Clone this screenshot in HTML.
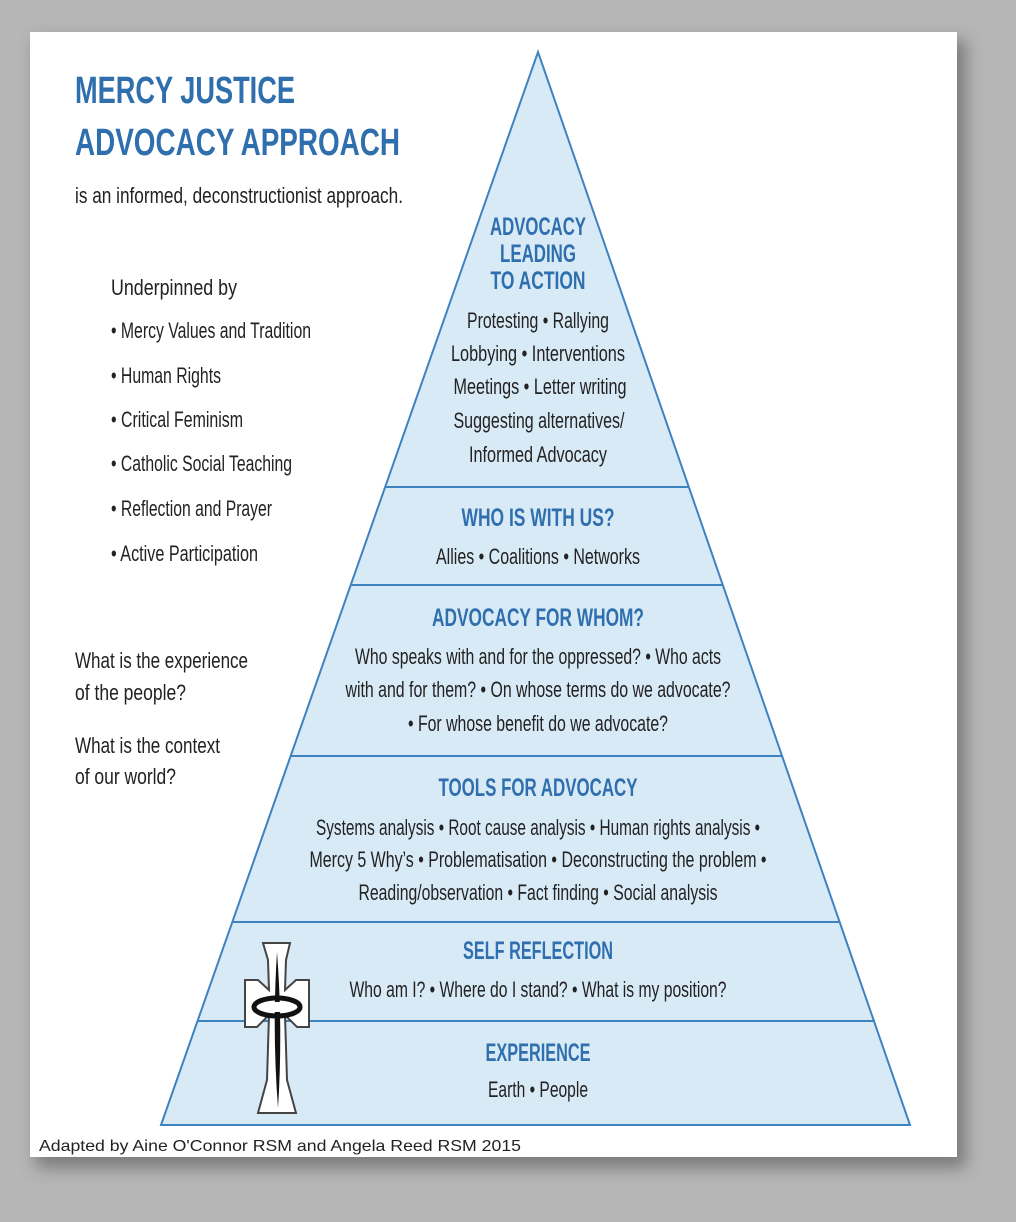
<!DOCTYPE html>
<html><head><meta charset="utf-8"><style>
html,body{margin:0;padding:0;background:#b5b6b5;}
svg{display:block}
text{font-family:"Liberation Sans Narrow","Liberation Sans",sans-serif;}
.t{fill:#2f6fae;font-weight:bold;}
.b{fill:#222;}
</style></head><body>
<svg width="1016" height="1222" viewBox="0 0 1016 1222" xmlns="http://www.w3.org/2000/svg">
<defs>
<filter id="sh" x="-10%" y="-10%" width="120%" height="120%"><feGaussianBlur stdDeviation="8"/></filter>
</defs>
<rect x="0" y="0" width="1016" height="1222" fill="#b5b6b5"/>
<rect x="36" y="40" width="930" height="1128" fill="#555" opacity="0.6" filter="url(#sh)"/>
<rect x="30" y="32" width="927" height="1125" fill="#fff"/>
<polygon points="538,52 910,1125 161,1125" fill="#d9eaf7" stroke="#3f82c0" stroke-width="2"/>
<g stroke="#3f82c0" stroke-width="2">
<line x1="385" y1="487" x2="689" y2="487"/>
<line x1="351" y1="585" x2="723" y2="585"/>
<line x1="291" y1="756" x2="782" y2="756"/>
<line x1="233" y1="922" x2="840" y2="922"/>
<line x1="198" y1="1021" x2="875" y2="1021"/>
</g>
<!-- cross -->
<g>
<path d="M263,943 L290,943 L286,960 L285,990 L296,980 L309,980 L309,1027 L297,1027 L285,1015 L287,1080 L296,1113 L258,1113 L267,1080 L269,1015 L257,1027 L245,1027 L245,980 L258,980 L269,990 L268,960 Z" fill="#fff" stroke="#444" stroke-width="2"/>
<path d="M277,952 Q283,1030 278,1108 Q272,1030 277,952 Z" fill="#111"/>
<ellipse cx="277" cy="1007" rx="23" ry="9" fill="none" stroke="#111" stroke-width="5"/>
<rect x="274" y="1002" width="6" height="10" fill="#fff"/>
</g>
<!-- left texts -->
<text class="t" x="75" y="103" font-size="38" textLength="220" lengthAdjust="spacingAndGlyphs">MERCY JUSTICE</text>
<text class="t" x="75" y="155" font-size="38" textLength="325" lengthAdjust="spacingAndGlyphs">ADVOCACY APPROACH</text>
<text class="b" x="75" y="203" font-size="22" textLength="328" lengthAdjust="spacingAndGlyphs">is an informed, deconstructionist approach.</text>
<g class="b" font-size="22">
<text x="111" y="295" textLength="126" lengthAdjust="spacingAndGlyphs">Underpinned by</text>
<text x="111" y="338" textLength="200" lengthAdjust="spacingAndGlyphs">• Mercy Values and Tradition</text>
<text x="111" y="383" textLength="110" lengthAdjust="spacingAndGlyphs">• Human Rights</text>
<text x="111" y="427" textLength="132" lengthAdjust="spacingAndGlyphs">• Critical Feminism</text>
<text x="111" y="471" textLength="181" lengthAdjust="spacingAndGlyphs">• Catholic Social Teaching</text>
<text x="111" y="516" textLength="161" lengthAdjust="spacingAndGlyphs">• Reflection and Prayer</text>
<text x="111" y="561" textLength="147" lengthAdjust="spacingAndGlyphs">• Active Participation</text>
<text x="75" y="668" textLength="173" lengthAdjust="spacingAndGlyphs">What is the experience</text>
<text x="75" y="700" textLength="111" lengthAdjust="spacingAndGlyphs">of the people?</text>
<text x="75" y="753" textLength="145" lengthAdjust="spacingAndGlyphs">What is the context</text>
<text x="75" y="784" textLength="101" lengthAdjust="spacingAndGlyphs">of our world?</text>
</g>
<!-- pyramid texts -->
<g text-anchor="middle">
<g class="t" font-size="25">
<text x="538" y="235" textLength="96" lengthAdjust="spacingAndGlyphs">ADVOCACY</text>
<text x="538" y="262" textLength="76" lengthAdjust="spacingAndGlyphs">LEADING</text>
<text x="538" y="289" textLength="95" lengthAdjust="spacingAndGlyphs">TO ACTION</text>
<text x="538" y="526" textLength="153" lengthAdjust="spacingAndGlyphs">WHO IS WITH US?</text>
<text x="538" y="626" textLength="212" lengthAdjust="spacingAndGlyphs">ADVOCACY FOR WHOM?</text>
<text x="538" y="796" textLength="199" lengthAdjust="spacingAndGlyphs">TOOLS FOR ADVOCACY</text>
<text x="538" y="959" textLength="150" lengthAdjust="spacingAndGlyphs">SELF REFLECTION</text>
<text x="538" y="1061" textLength="105" lengthAdjust="spacingAndGlyphs">EXPERIENCE</text>
</g>
<g class="b" font-size="22">
<text x="538" y="328" textLength="142" lengthAdjust="spacingAndGlyphs">Protesting • Rallying</text>
<text x="538" y="361" textLength="174" lengthAdjust="spacingAndGlyphs">Lobbying • Interventions</text>
<text x="540" y="394" textLength="173" lengthAdjust="spacingAndGlyphs">Meetings • Letter writing</text>
<text x="539" y="428" textLength="171" lengthAdjust="spacingAndGlyphs">Suggesting alternatives/</text>
<text x="538" y="462" textLength="138" lengthAdjust="spacingAndGlyphs">Informed Advocacy</text>
<text x="538" y="564" textLength="204" lengthAdjust="spacingAndGlyphs">Allies • Coalitions • Networks</text>
<text x="538" y="664" textLength="366" lengthAdjust="spacingAndGlyphs">Who speaks with and for the oppressed? • Who acts</text>
<text x="538" y="697" textLength="385" lengthAdjust="spacingAndGlyphs">with and for them? • On whose terms do we advocate?</text>
<text x="538" y="731" textLength="260" lengthAdjust="spacingAndGlyphs">• For whose benefit do we advocate?</text>
<text x="538" y="835" textLength="444" lengthAdjust="spacingAndGlyphs">Systems analysis • Root cause analysis • Human rights analysis •</text>
<text x="538" y="867" textLength="457" lengthAdjust="spacingAndGlyphs">Mercy 5 Why’s • Problematisation • Deconstructing the problem •</text>
<text x="538" y="900" textLength="359" lengthAdjust="spacingAndGlyphs">Reading/observation • Fact finding • Social analysis</text>
<text x="538" y="997" textLength="377" lengthAdjust="spacingAndGlyphs">Who am I? • Where do I stand? • What is my position?</text>
<text x="538" y="1097" textLength="100" lengthAdjust="spacingAndGlyphs">Earth • People</text>
</g>
</g>
<text x="39" y="1151" font-size="16" fill="#222" style="font-family:'Liberation Sans',sans-serif" textLength="482" lengthAdjust="spacingAndGlyphs">Adapted by Aine O'Connor RSM and Angela Reed RSM 2015</text>
</svg>
</body></html>
